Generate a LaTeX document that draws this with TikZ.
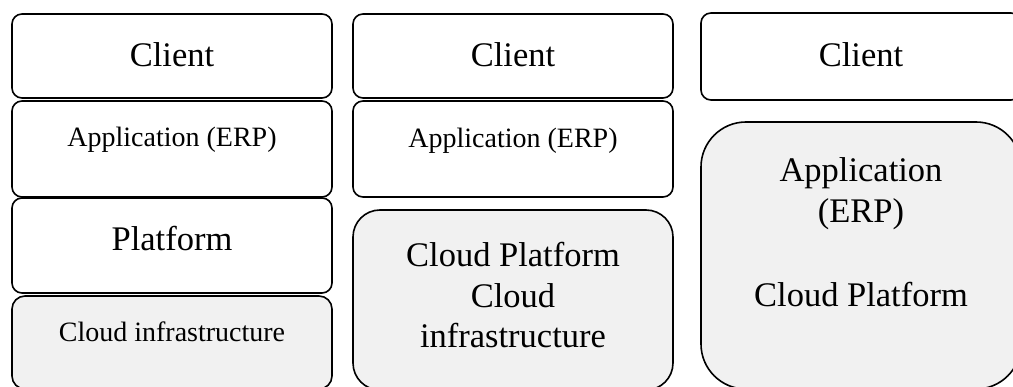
\documentclass[tikz,border=0pt]{standalone}
\usepackage{fontspec}
\setmainfont{Liberation Serif}
\definecolor{layergray}{RGB}{241,241,241}
\begin{document}
\begin{tikzpicture}[x=1pt,y=-1pt,
  layer/.style={draw=black, line width=1.6pt, rounded corners=10pt,
                inner sep=0pt, fill=white, minimum width=320pt},
  shaded/.style={layer, fill=layergray},
  bigtext/.style={font=\fontsize{34.5}{41}\selectfont, anchor=base, inner sep=0pt},
  smalltext/.style={font=\fontsize{28}{34}\selectfont, anchor=base, inner sep=0pt}]
\useasboundingbox (0,0) rectangle (1013,387);

% column 1: on-premise stack
\node[layer,  minimum height=84pt] (c1client) at (172,56)    {};
\node[layer,  minimum height=96pt] (c1app)    at (172,149)   {};
\node[layer,  minimum height=95pt] (c1plat)   at (172,245.5) {};
\node[shaded, minimum height=93pt, rounded corners=13pt] (c1infra) at (172,342.5) {};
\node[bigtext]   (t1client) at (172,67)  {Client};
\node[smalltext] (t1app)    at (172,147) {Application (ERP)};
\node[bigtext]   (t1plat)   at (172,251) {Platform};
\node[smalltext] (t1infra)  at (172,342) {Cloud infrastructure};

% column 2: platform and infrastructure in the cloud
\node[layer,  minimum height=84pt]  (c2client) at (513,56)  {};
\node[layer,  minimum height=96pt]  (c2app)    at (513,149) {};
\node[shaded, minimum height=180pt, rounded corners=27pt] (c2cloud) at (513,300) {};
\node[bigtext]   (t2client) at (513,67)  {Client};
\node[smalltext] (t2app)    at (513,148) {Application (ERP)};
\node[bigtext]   (t2cp)     at (513,267) {Cloud Platform};
\node[bigtext]   (t2cloud)  at (513,308) {Cloud};
\node[bigtext]   (t2infra)  at (513,348) {infrastructure};

% column 3: application delivered from the cloud
\node[layer,  minimum height=87pt]  (c3client) at (861,56.5)  {};
\node[shaded, minimum height=267pt, rounded corners=45pt] (c3cloud) at (861,255.5) {};
\node[bigtext] (t3client) at (861,67)  {Client};
\node[bigtext] (t3app)    at (861,182) {Application};
\node[bigtext] (t3erp)    at (861,223) {(ERP)};
\node[bigtext] (t3cp)     at (861,307) {Cloud Platform};
\end{tikzpicture}
\end{document}
